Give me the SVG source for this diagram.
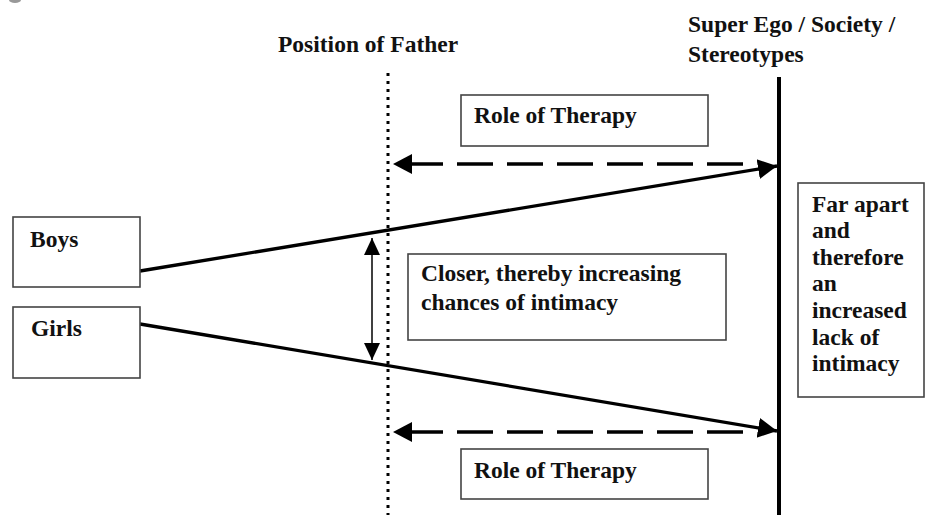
<svg xmlns="http://www.w3.org/2000/svg" width="926" height="515" viewBox="0 0 926 515">
<style>
  text { font-family: "Liberation Serif", "Times New Roman", serif; font-weight: bold; font-size: 23.5px; fill: #111; }
  .box { fill: #fff; stroke: #444; stroke-width: 1.6; }
  .thick { stroke: #000; stroke-width: 3.3; fill: none; }
  .dash { stroke: #000; stroke-width: 3.5; fill: none; stroke-dasharray: 36 14; }
  .thin { stroke: #000; stroke-width: 1.5; fill: none; }
</style>
<defs>
  <marker id="ah" markerUnits="userSpaceOnUse" markerWidth="20" markerHeight="22" refX="19" refY="10" orient="auto" viewBox="0 0 20 20">
    <path d="M0,0 L19,10 L0,20 Z" fill="#000"/>
  </marker>
  <marker id="ahs" markerUnits="userSpaceOnUse" markerWidth="18" markerHeight="18" refX="17" refY="8" orient="auto" viewBox="0 0 18 16">
    <path d="M0,0 L17,8 L0,16 Z" fill="#000"/>
  </marker>
</defs>
<rect width="926" height="515" fill="#fff"/>
<ellipse cx="15" cy="0" rx="6" ry="3" fill="#999"/>

<g id="axes">
  <line x1="388" y1="73" x2="388" y2="515" stroke="#000" stroke-width="3" stroke-dasharray="3 5"/>
  <line x1="779" y1="77" x2="779" y2="515" stroke="#000" stroke-width="4"/>
</g>

<g id="label-father"><text x="278" y="52">Position of Father</text></g>
<g id="label-superego">
  <text x="688" y="32">Super Ego / Society /</text>
  <text x="688" y="62">Stereotypes</text>
</g>

<g id="connectors">
  <line class="dash" x1="743" y1="164" x2="393" y2="164" marker-end="url(#ah)"/>
  <line class="dash" x1="743" y1="432" x2="393" y2="432" marker-end="url(#ah)"/>
  <line class="thick" x1="140" y1="271" x2="777" y2="166" marker-end="url(#ah)"/>
  <line class="thick" x1="140" y1="324" x2="777" y2="431" marker-end="url(#ah)"/>
  <line class="thin" x1="372" y1="250" x2="372" y2="238" marker-end="url(#ahs)"/>
  <line class="thin" x1="372" y1="250" x2="372" y2="360" marker-end="url(#ahs)"/>
</g>

<g id="therapy-top">
  <rect class="box" x="461" y="95" width="247" height="51"/>
  <text x="474" y="123">Role of Therapy</text>
</g>
<g id="therapy-bottom">
  <rect class="box" x="461" y="449" width="247" height="50"/>
  <text x="474" y="478">Role of Therapy</text>
</g>
<g id="boys">
  <rect class="box" x="13" y="217" width="127" height="70"/>
  <text x="30" y="247">Boys</text>
</g>
<g id="girls">
  <rect class="box" x="13" y="307" width="127" height="71"/>
  <text x="31" y="336">Girls</text>
</g>
<g id="closer">
  <rect class="box" x="408" y="254" width="318" height="86"/>
  <text x="421" y="281">Closer, thereby increasing</text>
  <text x="421" y="310">chances of intimacy</text>
</g>
<g id="farapart">
  <rect class="box" x="798" y="183" width="126" height="214"/>
  <text x="812" y="212">Far apart</text>
  <text x="812" y="238">and</text>
  <text x="812" y="265">therefore</text>
  <text x="812" y="291">an</text>
  <text x="812" y="318">increased</text>
  <text x="812" y="345">lack of</text>
  <text x="812" y="371">intimacy</text>
</g>
</svg>
